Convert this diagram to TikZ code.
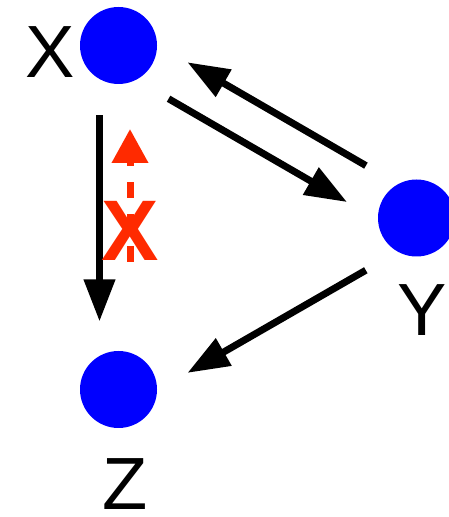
\documentclass[tikz,border=0pt]{standalone}
\usepackage{fontspec}
\setmainfont{Liberation Sans}
\usetikzlibrary{arrows.meta,positioning,calc}
\definecolor{cutred}{RGB}{255,42,0}

\begin{document}
\begin{tikzpicture}[
    x=1pt, y=1pt,
    dot/.style={circle, fill=blue, inner sep=0pt, minimum size=77pt},
    varname/.style={inner sep=0pt, font=\fontsize{74}{80}\selectfont},
    arrow/.style={-{Triangle[length=42pt,width=30pt]}, line width=7pt, shorten <=70pt, shorten >=68pt},
    blocked/.style={-{Triangle[length=34pt,width=35pt]}, line width=7pt, cutred, dash pattern=on 16pt off 16pt},
    cross/.style={inner sep=0pt, text=cutred, font=\fontsize{86}{90}\selectfont\bfseries}
  ]
    \useasboundingbox (0,0) rectangle (449,517);

    \node[dot] (X) at (118.5,471.5) {};
    \node[dot] (Y) at (416.5,299)   {};
    \node[dot] (Z) at (118.5,127.5) {};

    \node[varname, left=5pt of X, yshift=-7pt]   (xname) {X};
    \node[varname, below=28pt of Y, xshift=6pt] (yname) {Y};
    \node[varname, below=30pt of Z, xshift=7pt] (zname) {Z};

    \draw[arrow] ($(X)!19pt!-90:(Z)$) -- ($(Z)!19pt!90:(X)$);
    \draw[arrow] ($(X)!21pt!-90:(Y)$) -- ($(Y)!21pt!90:(X)$);
    \draw[arrow] ($(Y)!20pt!-90:(X)$) -- ($(X)!20pt!90:(Y)$);
    \draw[arrow] ($(Y)!20pt!90:(Z)$)  -- ($(Z)!20pt!-90:(Y)$);

    % blocked direction Z -> X
    \coordinate (cutlow)  at (130,255);
    \coordinate (cuthigh) at (130,388);
    \node[cross] (cut) at (130.5,286) {X};
    \draw[blocked] (cutlow) -- (cuthigh);
\end{tikzpicture}
\end{document}
